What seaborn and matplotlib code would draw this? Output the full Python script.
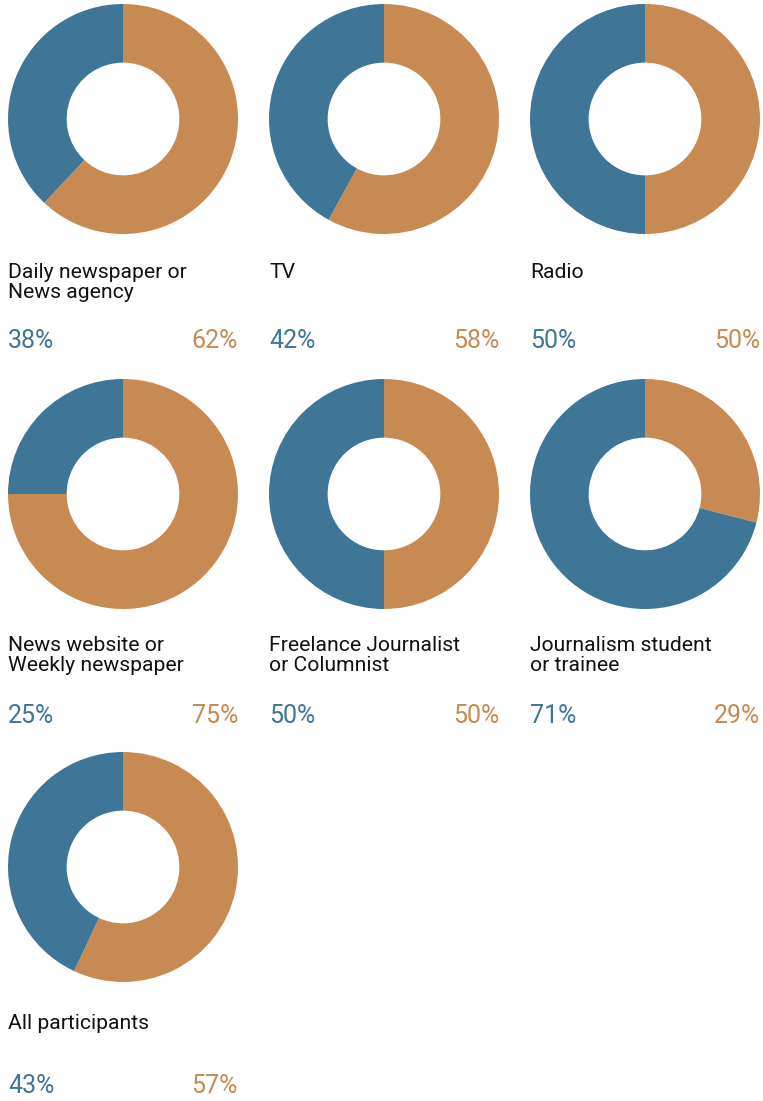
import matplotlib
matplotlib.use("Agg")
import matplotlib.pyplot as plt
import seaborn as sns

sns.set_theme(style="white")
plt.rcParams['font.family'] = ['Roboto', 'DejaVu Sans']

categories = ["Daily newspaper or\nNews agency", "TV", "Radio",
              "News website or\nWeekly newspaper", "Freelance Journalist\nor Columnist",
              "Journalism student\nor trainee", "All participants"]
blue_vals = [38, 42, 50, 25, 50, 71, 43]
orange_vals = [62, 58, 50, 75, 50, 29, 57]

BLUE = "#3f7596"
ORANGE = "#c88a53"

W, H = 763, 1101
fig = plt.figure(figsize=(W / 100, H / 100), dpi=100)

col_x = [8, 269, 530]          # left edge of donut in px
row_y = [4, 379, 752]          # top edge of donut in px
title_base = [278, 651, 1029]
pct_base = [348, 723, 1093]
D = 230

for i, (cat, b, o) in enumerate(zip(categories, blue_vals, orange_vals)):
    r, c = divmod(i, 3)
    x0, y0 = col_x[c], row_y[r]
    ax = fig.add_axes([x0 / W, 1 - (y0 + D) / H, D / W, D / H])
    ax.pie([o, b], colors=[ORANGE, BLUE], startangle=90, counterclock=False,
           radius=1, wedgeprops=dict(width=0.51, linewidth=0))
    ax.set_xlim(-1, 1)
    ax.set_ylim(-1, 1)
    ax.set_aspect("equal")
    ax.axis("off")
    for k, line in enumerate(cat.split("\n")):
        fig.text(x0 / W, 1 - (title_base[r] + k * 20) / H, line, fontsize=15.2,
                 color="#111111", ha="left", va="baseline")
    fig.text(x0 / W, 1 - pct_base[r] / H, f"{b}%", fontsize=18, color=BLUE,
             ha="left", va="baseline")
    fig.text((x0 + D) / W, 1 - pct_base[r] / H, f"{o}%", fontsize=18, color=ORANGE,
             ha="right", va="baseline")

fig.savefig("out.png", dpi=100)
